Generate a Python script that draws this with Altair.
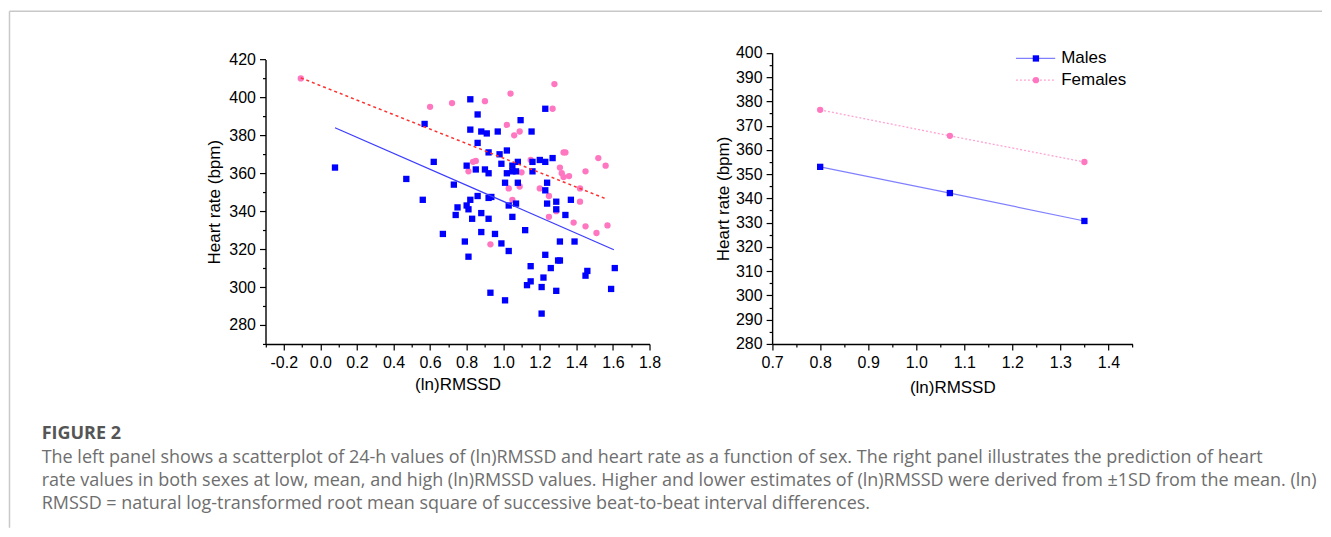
import altair as alt
import pandas as pd

# ---------------- Left panel: scatter of (ln)RMSSD vs heart rate ----------------
male_x = [0.08, 0.47, 0.56, 0.57, 0.62, 0.67, 0.73, 0.74, 0.75, 0.80, 0.80, 0.79, 0.81, 0.81,
          0.82, 0.82, 0.82, 0.83, 0.85, 0.86, 0.86, 0.86, 0.88, 0.88, 0.88, 0.90, 0.91, 0.92,
          0.92, 0.92, 0.92, 0.93, 0.935, 0.955, 0.97, 0.98, 0.99, 0.99, 1.01, 1.01, 1.02, 1.02,
          1.03, 1.03, 1.05, 1.05, 1.05, 1.07, 1.07, 1.08, 1.08, 1.095, 1.12, 1.13, 1.15, 1.15,
          1.155, 1.16, 1.16, 1.20, 1.21, 1.21, 1.22, 1.23, 1.23, 1.23, 1.23, 1.24, 1.24, 1.26,
          1.27, 1.29, 1.29, 1.29, 1.30, 1.31, 1.31, 1.34, 1.37, 1.39, 1.45, 1.46, 1.59, 1.61]
male_y = [363, 357, 346, 386, 366, 328, 354, 338, 342, 343, 364, 324, 316, 341,
          399, 383, 346, 336, 362, 391, 376, 348, 382, 339, 329, 362, 381, 371,
          360, 347, 336, 297, 347.5, 328, 382, 370, 365, 323, 355, 293, 372, 360,
          343, 319, 364, 361, 337, 361, 344, 366, 355, 388, 330, 301, 303, 311,
          382, 366, 361, 367, 300, 286, 305, 394, 366, 351, 317, 355, 344, 310,
          368, 345, 341, 298, 314, 314, 324, 338, 346, 324, 306, 308.5, 299, 310]

female_x = [-0.107, 0.60, 0.72, 0.81, 0.835, 0.85, 0.90, 0.93, 1.02, 1.03, 1.04, 1.05, 1.06,
            1.09, 1.09, 1.10, 1.15, 1.20, 1.25, 1.25, 1.27, 1.28, 1.29, 1.31, 1.32, 1.33,
            1.33, 1.34, 1.36, 1.385, 1.42, 1.42, 1.45, 1.45, 1.51, 1.52, 1.56, 1.57]
female_y = [410, 395, 397, 361, 366, 366.5, 398, 322.5, 385.5, 352, 402, 346, 380,
            353, 382, 360.5, 367, 352, 348, 337, 394, 407, 340, 363, 360, 358,
            371, 371, 358.5, 334, 352, 345, 361, 332, 328.5, 368, 364, 332.5]

# fitted regression lines (end points)
male_fit_x = [0.08, 1.605]
male_fit_y = [384.0, 319.7]
female_fit_x = [-0.107, 1.565]
female_fit_y = [410.3, 346.4]

# ---------------- Right panel: predicted heart rate ----------------
pred_x = [0.80, 1.07, 1.35]
pred_male = [353.0, 342.2, 330.7]
pred_female = [376.5, 365.8, 355.0]

# ---------------- Tick values ----------------
lx_ticks = [round(-0.3 + 0.1 * i, 1) for i in range(22)]
ly_ticks = [270 + 10 * i for i in range(16)]
rx_ticks = [round(0.7 + 0.05 * i, 2) for i in range(16)]
ry_ticks = [280 + 5 * i for i in range(25)]

legend_labels = ["Males", "Females"]
caption_head = "FIGURE 2"
caption_lines = [
    "The left panel shows a scatterplot of 24-h values of (ln)RMSSD and heart rate as a function of sex. The right panel illustrates the prediction of heart",
    "rate values in both sexes at low, mean, and high (ln)RMSSD values. Higher and lower estimates of (ln)RMSSD were derived from \u00b11SD from the mean. (ln)",
    "RMSSD = natural log-transformed root mean square of successive beat-to-beat interval differences.",
]

MALE = "#0000ff"
FEMALE = "#ff77c0"
FONT = "Liberation Sans"


def axis(orient, values, minor_test, label_expr, title, offset=0, label_pad=5, title_pad=6):
    return alt.Axis(
        orient=orient, values=values, title=title, offset=offset,
        labelExpr=label_expr,
        tickSize={"condition": {"test": minor_test, "value": 3}, "value": 6},
        grid=False, labelFlush=False, labelOverlap=False,
        domainColor="black", domainWidth=1.4, tickColor="black", tickWidth=1.2,
        labelFont=FONT, labelFontSize=16, labelColor="black", labelPadding=label_pad,
        titleFont=FONT, titleFontSize=17, titleFontWeight="normal", titleColor="black",
        titlePadding=title_pad,
    )


minus_fix = "replace(format(datum.value, '.1f'), '\u2212', '-')"
ax_lx = axis("bottom", lx_ticks, "round(datum.value*10) % 2 != 0",
             "round(datum.value*10) % 2 == 0 ? " + minus_fix + " : ''", "(ln)RMSSD",
             label_pad=5, title_pad=6)
ax_ly = axis("left", ly_ticks, "round(datum.value/10) % 2 != 0",
             "round(datum.value/10) % 2 == 0 ? format(datum.value, 'd') : ''", "Heart rate (bpm)",
             offset=-257.7, label_pad=4, title_pad=5)
ax_rx = axis("bottom", rx_ticks, "round(datum.value*20) % 2 != 0",
             "round(datum.value*20) % 2 == 0 ? format(datum.value, '.1f') : ''", "(ln)RMSSD",
             label_pad=5, title_pad=9)
ax_ry = axis("left", ry_ticks, "round(datum.value/5) % 2 != 0",
             "round(datum.value/5) % 2 == 0 ? format(datum.value, 'd') : ''", "Heart rate (bpm)",
             offset=-764.7, label_pad=4, title_pad=3)

sc_lx = alt.Scale(domain=[-0.3, 1.8], range=[257.7, 642.0], zero=False, nice=False)
sc_ly = alt.Scale(domain=[270, 420], range=[336.0, 51.3], zero=False, nice=False)
sc_rx = alt.Scale(domain=[0.7, 1.45], range=[764.7, 1125.3], zero=False, nice=False)
sc_ry = alt.Scale(domain=[280, 400], range=[336.0, 44.7], zero=False, nice=False)


def enc_left():
    return dict(x=alt.X("x:Q", scale=sc_lx, axis=ax_lx), y=alt.Y("y:Q", scale=sc_ly, axis=ax_ly))


def enc_right():
    return dict(x=alt.X("x:Q", scale=sc_rx, axis=ax_rx), y=alt.Y("y:Q", scale=sc_ry, axis=ax_ry))


df_f = pd.DataFrame({"x": female_x, "y": female_y})
df_m = pd.DataFrame({"x": male_x, "y": male_y})
df_mfit = pd.DataFrame({"x": male_fit_x, "y": male_fit_y})
df_ffit = pd.DataFrame({"x": female_fit_x, "y": female_fit_y})

left = alt.layer(
    alt.Chart(df_f).mark_circle(color=FEMALE, size=40, opacity=1).encode(**enc_left()),
    alt.Chart(df_m).mark_square(color=MALE, size=40, opacity=1).encode(**enc_left()),
    alt.Chart(df_mfit).mark_line(color="#3c3cff", strokeWidth=1.2).encode(**enc_left()),
    alt.Chart(df_ffit).mark_line(color="#ff3030", strokeWidth=1.5, strokeDash=[3, 3]).encode(**enc_left()),
)

df_pm = pd.DataFrame({"x": pred_x, "y": pred_male})
df_pf = pd.DataFrame({"x": pred_x, "y": pred_female})

right = alt.layer(
    alt.Chart(df_pf).mark_line(color="#ffa3d3", strokeWidth=1.3, strokeDash=[2, 2]).encode(**enc_right()),
    alt.Chart(df_pm).mark_line(color="#8080ff", strokeWidth=1.2).encode(**enc_right()),
    alt.Chart(df_pf).mark_circle(color=FEMALE, size=40, opacity=1).encode(**enc_right()),
    alt.Chart(df_pm).mark_square(color=MALE, size=40, opacity=1).encode(**enc_right()),
)

one = pd.DataFrame({"k": [0]})
legend_rows = [(legend_labels[0], 50.3, "#8080ff", None, "square", MALE),
               (legend_labels[1], 72.0, "#ffa3d3", [2, 2], "circle", FEMALE)]
legend_layers = []
for label, ly, lcol, dash, shape, mcol in legend_rows:
    rule_kw = dict(color=lcol, strokeWidth=1.3)
    if dash:
        rule_kw["strokeDash"] = dash
    legend_layers.append(alt.Chart(one).mark_rule(**rule_kw).encode(
        x=alt.value(1008.7), x2=alt.value(1048.0), y=alt.value(ly)))
    legend_layers.append(alt.Chart(one).mark_point(shape=shape, filled=True, size=40, color=mcol, opacity=1).encode(
        x=alt.value(1028.7), y=alt.value(ly)))
    legend_layers.append(alt.Chart(one).mark_text(text=label, align="left", baseline="middle",
                                                   font=FONT, fontSize=17, color="black").encode(
        x=alt.value(1054.0), y=alt.value(ly)))

deco = alt.layer(
    alt.Chart(one).mark_rule(color="#c8c8c8", strokeWidth=1.5).encode(
        x=alt.value(1.5), x2=alt.value(1315), y=alt.value(3)),
    alt.Chart(one).mark_rule(color="#c8c8c8", strokeWidth=1.5).encode(
        x=alt.value(1.5), y=alt.value(3), y2=alt.value(520)),
    alt.Chart(one).mark_text(text=caption_head, align="left", baseline="alphabetic", font="Open Sans",
                             fontSize=18, fontWeight="bold", color="#555555").encode(
        x=alt.value(33.7), y=alt.value(431.5)),
    alt.Chart(one).mark_text(text=caption_lines, align="left", baseline="alphabetic", font="Open Sans",
                             fontSize=18, lineHeight=23.3, color="#6e6e6e").encode(
        x=alt.value(33.7), y=alt.value(455.0)),
    *legend_layers,
)

chart = alt.layer(left, right, deco).resolve_scale(
    x="independent", y="independent"
).properties(width=1315, height=336, padding=0).configure_view(stroke=None)

chart.save("out.html", embed_options={"renderer": "svg", "actions": False})
